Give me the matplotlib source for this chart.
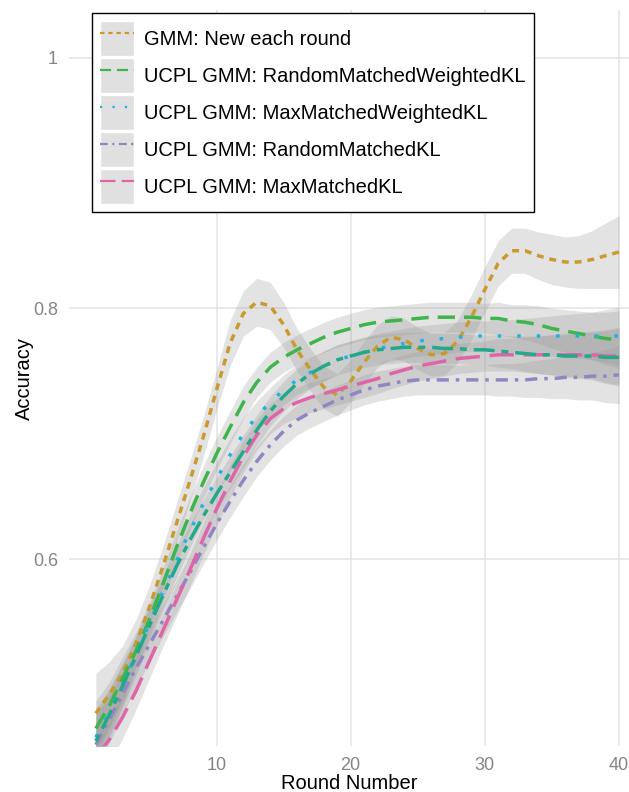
import numpy as np
import matplotlib
matplotlib.use("Agg")
import matplotlib.pyplot as plt
from matplotlib.patches import Patch
from matplotlib.lines import Line2D

plt.rcParams['font.family'] = ['Liberation Sans', 'DejaVu Sans']

# rodadas 1..40
rounds = np.arange(1, 41)

gmm_new = [0.477, 0.492, 0.509, 0.533, 0.562, 0.594, 0.628, 0.662, 0.697, 0.735,
           0.772, 0.796, 0.805, 0.802, 0.787, 0.767, 0.751, 0.737, 0.731, 0.742,
           0.757, 0.770, 0.777, 0.775, 0.768, 0.763, 0.764, 0.774, 0.793, 0.815,
           0.836, 0.846, 0.846, 0.842, 0.839, 0.837, 0.837, 0.839, 0.842, 0.845]

rand_weighted = [0.465, 0.483, 0.505, 0.527, 0.552, 0.580, 0.609, 0.636, 0.661, 0.684,
                 0.705, 0.725, 0.741, 0.753, 0.761, 0.767, 0.772, 0.777, 0.781, 0.784,
                 0.787, 0.789, 0.790, 0.791, 0.792, 0.793, 0.793, 0.793, 0.793, 0.792,
                 0.792, 0.790, 0.789, 0.787, 0.784, 0.782, 0.780, 0.778, 0.776, 0.775]

max_weighted = [0.458, 0.478, 0.500, 0.524, 0.549, 0.574, 0.598, 0.622, 0.644, 0.664,
                0.683, 0.700, 0.714, 0.725, 0.735, 0.743, 0.749, 0.754, 0.759, 0.762,
                0.765, 0.768, 0.770, 0.772, 0.774, 0.775, 0.776, 0.777, 0.778, 0.778,
                0.778, 0.778, 0.778, 0.778, 0.778, 0.778, 0.778, 0.778, 0.778, 0.778]

rand_kl = [0.452, 0.472, 0.493, 0.513, 0.532, 0.551, 0.570, 0.589, 0.609, 0.628,
           0.646, 0.663, 0.678, 0.691, 0.702, 0.711, 0.717, 0.722, 0.727, 0.731,
           0.735, 0.738, 0.740, 0.742, 0.743, 0.743, 0.743, 0.743, 0.743, 0.743,
           0.743, 0.743, 0.743, 0.744, 0.744, 0.745, 0.745, 0.746, 0.746, 0.747]

max_kl = [0.442, 0.456, 0.474, 0.495, 0.519, 0.543, 0.567, 0.591, 0.616, 0.640,
          0.662, 0.682, 0.699, 0.712, 0.720, 0.725, 0.729, 0.732, 0.735, 0.738,
          0.741, 0.744, 0.748, 0.751, 0.754, 0.756, 0.758, 0.760, 0.761, 0.762,
          0.763, 0.763, 0.763, 0.763, 0.763, 0.763, 0.763, 0.763, 0.762, 0.762]

# curva extra (sem legenda no original)
extra = [0.455, 0.476, 0.499, 0.523, 0.547, 0.571, 0.594, 0.615, 0.634, 0.652,
         0.669, 0.686, 0.703, 0.718, 0.730, 0.740, 0.748, 0.754, 0.759, 0.762,
         0.765, 0.767, 0.768, 0.769, 0.769, 0.769, 0.768, 0.768, 0.767, 0.767,
         0.766, 0.765, 0.764, 0.763, 0.763, 0.762, 0.762, 0.762, 0.761, 0.761]

# meia largura da faixa de confianca
gmm_se = [0.032, 0.026, 0.022, 0.019, 0.017, 0.016, 0.016, 0.016, 0.016, 0.016,
          0.018, 0.018, 0.019, 0.019, 0.018, 0.017, 0.017, 0.017, 0.017, 0.017,
          0.017, 0.017, 0.017, 0.017, 0.017, 0.017, 0.017, 0.017, 0.018, 0.018,
          0.018, 0.018, 0.018, 0.019, 0.020, 0.020, 0.021, 0.023, 0.026, 0.029]

ucpl_se = [0.022, 0.019, 0.017, 0.015, 0.014, 0.013, 0.013, 0.013, 0.013, 0.013,
           0.013, 0.013, 0.012, 0.012, 0.012, 0.012, 0.012, 0.012, 0.012, 0.012,
           0.012, 0.012, 0.012, 0.012, 0.012, 0.012, 0.012, 0.012, 0.012, 0.012,
           0.013, 0.013, 0.014, 0.015, 0.016, 0.017, 0.018, 0.019, 0.021, 0.023]

labels = ["GMM: New each round",
          "UCPL GMM: RandomMatchedWeightedKL",
          "UCPL GMM: MaxMatchedWeightedKL",
          "UCPL GMM: RandomMatchedKL",
          "UCPL GMM: MaxMatchedKL"]

series = [gmm_new, rand_weighted, max_weighted, rand_kl, max_kl, extra]
bands = [gmm_se, ucpl_se, ucpl_se, ucpl_se, ucpl_se, ucpl_se]
colors = ["#C99A2E", "#3DB54A", "#1CB3E8", "#9385C4", "#E065A8", "#21A98A"]
styles = [(0, (2, 1.7)), (0, (5, 2.6)), (0, (1, 4.6)),
          (0, (3.5, 2, 1, 2)), (0, (7, 2.8)), (0, (2, 2, 6, 2))]

fig = plt.figure(figsize=(6.29, 7.92), dpi=100)
ax = fig.add_axes([69 / 629, 46 / 792, 560 / 629, 736 / 792])

# faixas primeiro, depois as linhas
for y, se in zip(series, bands):
    y = np.array(y)
    se = np.array(se)
    ax.fill_between(rounds, y - se, y + se, color="#999999", alpha=0.27, linewidth=0)

for y, c, ls in zip(series, colors, styles):
    ax.plot(rounds, y, color=c, linestyle=ls, linewidth=2.5)

ax.set_xlim(-1, 40.75)
ax.set_ylim(0.451, 1.038)
ax.set_xticks([10, 20, 30, 40])
ax.set_yticks([0.6, 0.8, 1.0])
ax.set_yticklabels(["0.6", "0.8", "1"])
ax.grid(True, color="#e3e3e3", linewidth=1.1)
ax.set_axisbelow(True)
for s in ax.spines.values():
    s.set_visible(False)
ax.tick_params(length=0, labelsize=13, labelcolor="#858585", pad=8)
ax.set_xlabel("Round Number", fontsize=14.5, labelpad=0)
ax.set_ylabel("Accuracy", fontsize=14.5, labelpad=-1)

handles = []
for c, ls in zip(colors[:5], styles[:5]):
    handles.append((Patch(facecolor="#e0e0e0", edgecolor="white", linewidth=1.0),
                    Line2D([], [], color=c, linestyle=ls, linewidth=1.6)))

leg = ax.legend(handles, labels, loc="upper left", bbox_to_anchor=(0.041, 0.996),
                borderaxespad=0, fontsize=14.5, handlelength=1.7, handleheight=2.3,
                handletextpad=0.5, labelspacing=0.1, borderpad=0.4,
                fancybox=False, framealpha=1, edgecolor="black")
leg.get_frame().set_linewidth(1.0)

fig.savefig("out.png", dpi=100)
